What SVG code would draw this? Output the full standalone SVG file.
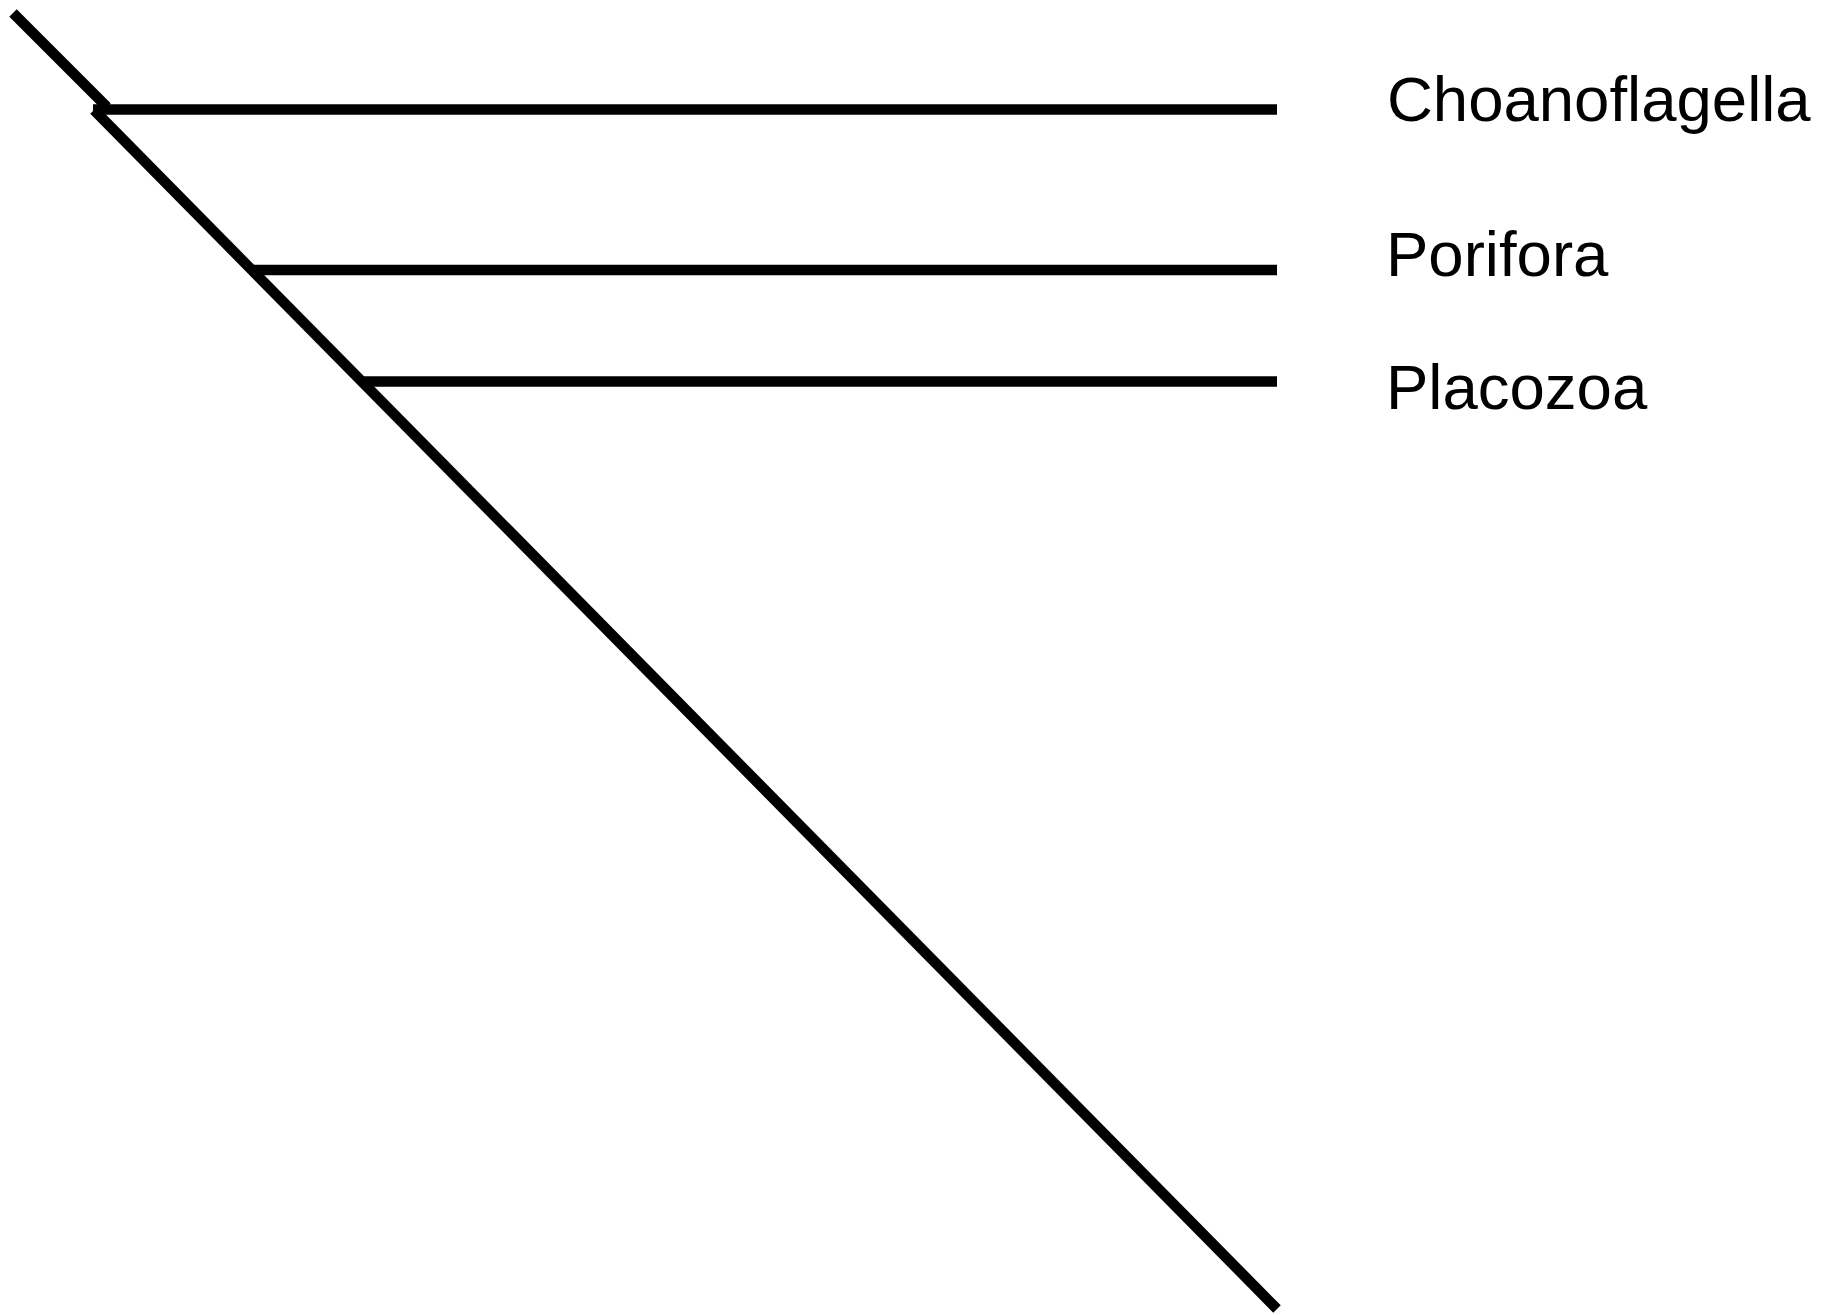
<svg xmlns="http://www.w3.org/2000/svg" width="1823" height="1315" viewBox="0 0 1823 1315">
  <style>
    .branch { stroke: #000; stroke-width: 10.5; fill: none; stroke-linecap: butt; }
    .taxon { font-family: "Liberation Sans", Arial, sans-serif; font-size: 63.5px; fill: #000; }
  </style>
  <rect width="1823" height="1315" fill="#fff"/>
  <!-- tree branches -->
  <g id="connectors">
    <line class="branch" x1="13" y1="13" x2="107" y2="107"/>
    <line class="branch" x1="94" y1="110" x2="1277" y2="1309"/>
    <line class="branch" x1="93" y1="109.5" x2="1277" y2="109.5"/>
    <line class="branch" x1="252" y1="270" x2="1277" y2="270"/>
    <line class="branch" x1="363" y1="381.5" x2="1277" y2="381.5"/>
  </g>
  <!-- leaf labels -->
  <g id="choanoflagella"><text class="taxon" x="1387" y="121">Choanoflagella</text></g>
  <g id="porifora"><text class="taxon" x="1386" y="275.5">Porifora</text></g>
  <g id="placozoa"><text class="taxon" x="1386" y="409">Placozoa</text></g>
</svg>
